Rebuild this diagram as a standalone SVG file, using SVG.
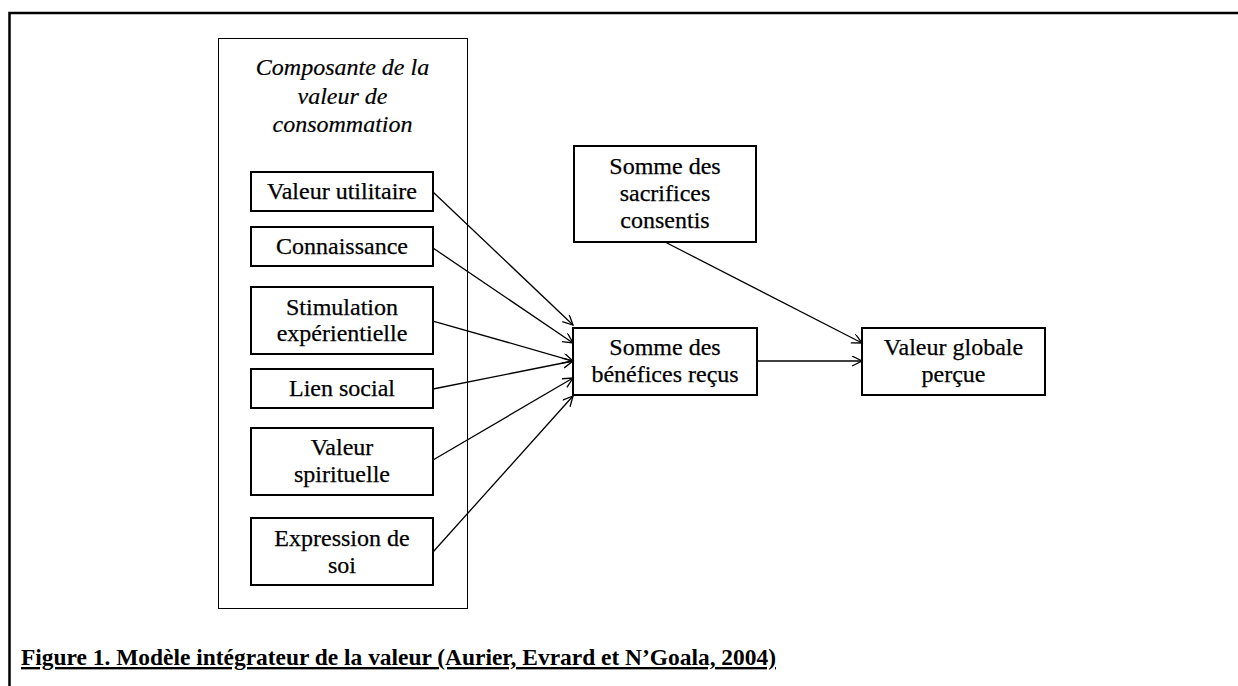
<svg xmlns="http://www.w3.org/2000/svg" width="1238" height="686" viewBox="0 0 1238 686">
  <style>
    .box { fill: #fff; stroke: #000; stroke-width: 2; }
    .container { fill: none; stroke: #000; stroke-width: 1; }
    .t { font-family: "Liberation Serif", "Times New Roman", serif; font-size: 24px; fill: #000; stroke: #000; stroke-width: 0.25; text-anchor: middle; }
    .ti { font-family: "Liberation Serif", "Times New Roman", serif; font-size: 24px; font-style: italic; fill: #000; stroke: #000; stroke-width: 0.2; text-anchor: middle; }
    .cap { font-family: "Liberation Serif", "Times New Roman", serif; font-size: 23.5px; font-weight: bold; fill: #000; text-decoration: underline; }
    .conn { fill: none; stroke: #000; stroke-width: 1.3; marker-end: url(#arrow); }
  </style>
  <defs>
    <marker id="arrow" markerUnits="userSpaceOnUse" markerWidth="14" markerHeight="12" refX="11" refY="5" orient="auto">
      <path d="M1,0 L11,5 L1,10" fill="none" stroke="#000" stroke-width="1.3"/>
    </marker>
  </defs>
  <rect x="0" y="0" width="1238" height="686" fill="#fff"/>
  <path d="M9.5,686 V13 H1238" fill="none" stroke="#000" stroke-width="2.5"/>

  <g id="container">
    <rect class="container" x="218.5" y="38.5" width="249" height="570"/>
    <text class="ti" x="342.5" y="75">Composante de la</text>
    <text class="ti" x="342.5" y="104">valeur de</text>
    <text class="ti" x="342.5" y="132">consommation</text>
  </g>

  <g id="valeur-utilitaire">
    <rect class="box" x="251" y="172" width="182" height="39"/>
    <text class="t" x="342" y="199">Valeur utilitaire</text>
  </g>
  <g id="connaissance">
    <rect class="box" x="251" y="227" width="182" height="39"/>
    <text class="t" x="342" y="254">Connaissance</text>
  </g>
  <g id="stimulation">
    <rect class="box" x="251" y="287" width="182" height="67"/>
    <text class="t" x="342" y="315">Stimulation</text>
    <text class="t" x="342" y="341">expérientielle</text>
  </g>
  <g id="lien-social">
    <rect class="box" x="251" y="369" width="182" height="39"/>
    <text class="t" x="342" y="396">Lien social</text>
  </g>
  <g id="valeur-spirituelle">
    <rect class="box" x="251" y="428" width="182" height="67"/>
    <text class="t" x="342" y="455">Valeur</text>
    <text class="t" x="342" y="482">spirituelle</text>
  </g>
  <g id="expression-de-soi">
    <rect class="box" x="251" y="518" width="182" height="67"/>
    <text class="t" x="342" y="546">Expression de</text>
    <text class="t" x="342" y="573">soi</text>
  </g>

  <g id="sacrifices">
    <rect class="box" x="574" y="146" width="182" height="96"/>
    <text class="t" x="665" y="174">Somme des</text>
    <text class="t" x="665" y="201">sacrifices</text>
    <text class="t" x="665" y="228">consentis</text>
  </g>
  <g id="benefices">
    <rect class="box" x="573" y="328" width="184" height="67"/>
    <text class="t" x="665" y="355">Somme des</text>
    <text class="t" x="665" y="382">bénéfices reçus</text>
  </g>
  <g id="valeur-globale">
    <rect class="box" x="862" y="328" width="183" height="67"/>
    <text class="t" x="953.5" y="355">Valeur globale</text>
    <text class="t" x="953.5" y="382">perçue</text>
  </g>

  <g id="connectors">
    <line class="conn" x1="433" y1="192" x2="573" y2="325"/>
    <line class="conn" x1="433" y1="248" x2="573" y2="343"/>
    <line class="conn" x1="433" y1="321" x2="573" y2="361"/>
    <line class="conn" x1="433" y1="389" x2="573" y2="361"/>
    <line class="conn" x1="433" y1="460" x2="573" y2="378"/>
    <line class="conn" x1="433" y1="552" x2="573" y2="396"/>
    <line class="conn" x1="665" y1="242" x2="862" y2="343"/>
    <line class="conn" x1="757" y1="361" x2="862" y2="361"/>
  </g>

  <text class="cap" x="21" y="665" textLength="755" lengthAdjust="spacingAndGlyphs">Figure 1. Modèle intégrateur de la valeur (Aurier, Evrard et N’Goala, 2004)</text>
</svg>
